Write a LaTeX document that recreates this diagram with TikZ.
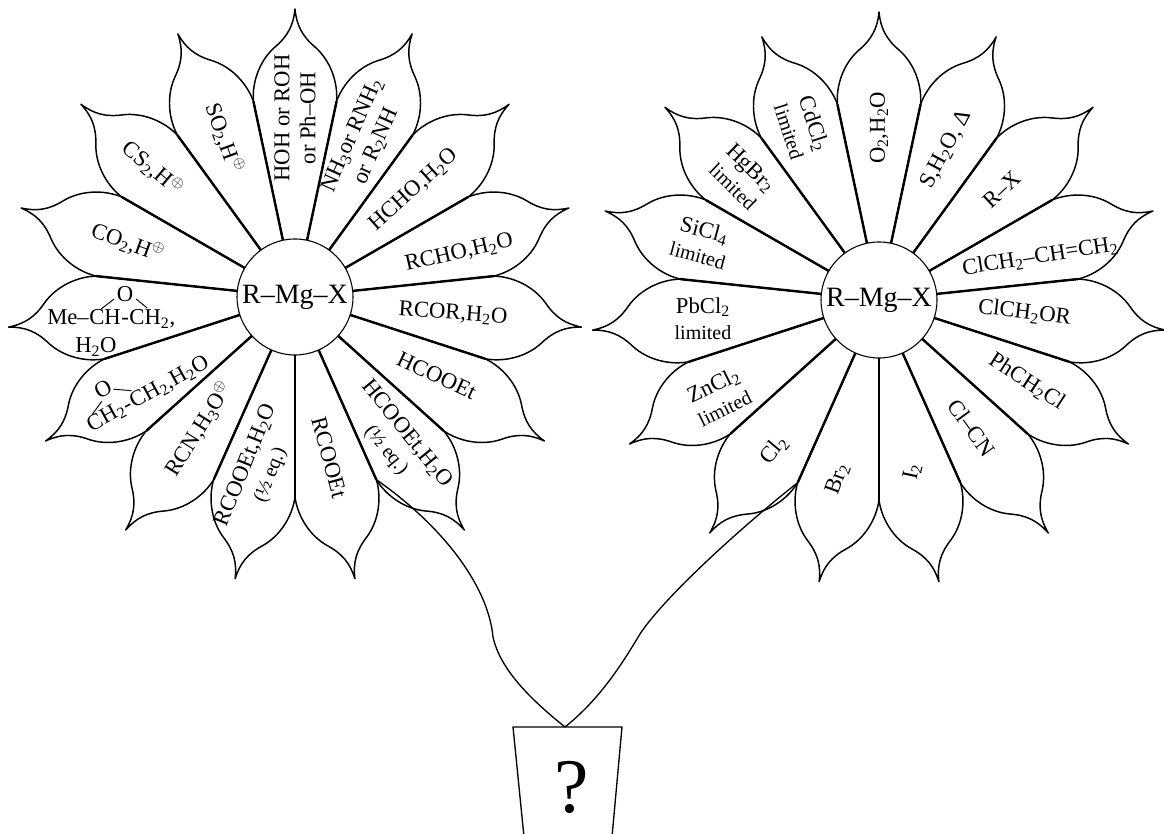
\documentclass[tikz,border=0pt]{standalone}
\usepackage{fontspec}
\setmainfont{Liberation Serif}
\usetikzlibrary{calc}
\newcommand{\dn}[1]{\textsubscript{#1}}
\newcommand{\pl}{$^{\oplus}$}
\newcommand{\limfont}{\fontsize{15}{16}\selectfont}
\begin{document}
\begin{tikzpicture}[x=0.75pt,y=0.75pt,
  petalline/.style={draw=black,fill=white,line width=1.1pt,line join=round},
  ray/.style={line width=1.8pt},
  core/.style={circle,draw,line width=0.8pt,fill=white,minimum size=87pt,inner sep=0pt,
    font=\fontsize{21}{24}\selectfont},
  lab/.style={inner sep=0pt,align=center,font=\fontsize{17}{19.5}\selectfont},
  bond/.style={line width=0.7pt},
  stem/.style={line width=1pt},
  pics/flowerpetal/.style={code={
    \path[petalline] (-12:58) -- (-12:200)
      .. controls (214,-43) and (236,-36) .. (250,-20)
      .. controls (261,-7) and (272,-1.5) .. (288,0)
      .. controls (272,1.5) and (261,7) .. (250,20)
      .. controls (236,36) and (214,43) .. (12:200)
      -- (12:58) -- cycle;}}]
\useasboundingbox (0,0) rectangle (1164,834);

\coordinate (lc) at (295,537);
\coordinate (rc) at (879,534);

% petals of both flowers
\foreach \a in {90,66,...,-246} {
  \pic[rotate=\a] at (lc) {flowerpetal};
  \pic[rotate=\a] at (rc) {flowerpetal};
}
% shared edges between neighbouring petals
\foreach \a in {102,78,...,-234} {
  \draw[ray] ($(lc)+(\a:58)$) -- ($(lc)+(\a:200)$);
  \draw[ray] ($(rc)+(\a:58)$) -- ($(rc)+(\a:200)$);
}

% stems and pot
\coordinate (lstem) at ($(lc)+(-66:200)$);
\coordinate (rstem) at ($(rc)+(-114:200)$);
\coordinate (pottop) at (565,107);
\draw[stem] (lstem) .. controls (440,310) and (488,250) .. (493,197)
  .. controls (500,165) and (530,135) .. (pottop);
\draw[stem] (rstem) .. controls (745,310) and (665,238) .. (640,200)
  .. controls (622,170) and (600,135) .. (pottop);
\coordinate (potbl) at (524,-3);
\coordinate (pottl) at (513,107);
\coordinate (pottr) at (622,107);
\coordinate (potbr) at (612,-3);
\draw[stem] (potbl) -- (pottl) -- (pottr) -- (potbr);
\node[inner sep=0pt,font=\fontsize{58}{60}\selectfont] (q) at (572,47) {?};

% centres
\node[core] (lcore) at (lc) {R–Mg–X};
\node[core] (rcore) at (rc) {R–Mg–X};

% reagents of the left flower
\node[lab,rotate=90] (l1) at ($(lc)+(90:179)$) {HOH or ROH\\or Ph–OH};
\node[lab,rotate=66] (l2) at ($(lc)+(66:171)$) {NH\dn3or RNH\dn2\\or R\dn2NH};
\node[lab,rotate=42] (l3) at ($(lc)+(42:160)$) {HCHO,H\dn2O};
\node[lab,rotate=13] (l4) at ($(lc)+(15:170)$) {RCHO,H\dn2O};
\node[lab,rotate=-4] (l5) at ($(lc)+(-6:159)$) {RCOR,H\dn2O};
\node[lab,rotate=-25] (l6) at ($(lc)+(-29:162)$) {HCOOEt};
\node[lab,rotate=-51] (l7) at ($(lc)+(-55:177)$) {HCOOEt,H\dn2O\\{\limfont (½ eq.)}};
\node[lab,rotate=-75] (l8) at ($(lc)+(-78:164)$) {RCOOEt};
\node[lab,rotate=68] (l9) at ($(lc)+(-102:177)$) {RCOOEt,H\dn2O\\{\limfont (½ eq.)}};
\node[lab,rotate=58] (l10) at ($(lc)+(-126:163)$) {RCN,H\dn3O\pl};
\node[lab,rotate=-20] (l13) at ($(lc)+(162:176)$) {CO\dn2,H\pl};
\node[lab,rotate=-40] (l14) at ($(lc)+(138:192)$) {CS\dn2,H\pl};
\node[lab,rotate=-70] (l15) at ($(lc)+(114:174)$) {SO\dn2,H\pl};

% ethylene oxide
\begin{scope}[shift={($(lc)+(-147:180)$)},rotate=29,transform shape]
  \node[lab,anchor=base west] (e1) at (-64,-7) {CH\dn2};
  \node[lab,anchor=base west] (e2) at (e1.base east) {-};
  \node[lab,anchor=base west] (e3) at (e2.base east) {CH\dn2,H\dn2O};
  \node[lab] (eo) at (-33,25) {O};
  \coordinate (eb1) at (-40,15);
  \coordinate (eb2) at (-55,8);
  \coordinate (eb3) at (-24,20);
  \coordinate (eb4) at (-9,10);
  \draw[bond] (eb1) -- (eb2);
  \draw[bond] (eb3) -- (eb4);
\end{scope}

% propylene oxide
\node[lab,anchor=base west] (p1) at (47,509) {Me–};
\node[lab,anchor=base west] (p2) at (p1.base east) {CH};
\node[lab,anchor=base west] (p3) at (p2.base east) {-};
\node[lab,anchor=base west] (p4) at (p3.base east) {CH\dn2,};
\node[lab,anchor=base west] (p5) at (75,481) {H\dn2O};
\node[lab] (po) at ($(p3.base)+(0,31)$) {O};
\draw[bond] ($(po)+(-11,-5)$) -- ($(po)+(-24,-15)$);
\draw[bond] ($(po)+(11,-5)$) -- ($(po)+(22,-14)$);

% reagents of the right flower
\node[lab,rotate=90] (r1) at ($(rc)+(90:172)$) {O\dn2,H\dn2O};
\node[lab,rotate=62] (r2) at ($(rc)+(66:165)$) {S,H\dn2O, Δ};
\node[lab,rotate=43] (r3) at ($(rc)+(42:165)$) {R–X};
\node[lab,rotate=9] (r4) at ($(rc)+(15:167)$) {ClCH\dn2–CH=CH\dn2};
\node[lab,rotate=-7] (r5) at ($(rc)+(-5:146)$) {ClCH\dn2OR};
\node[lab,rotate=-33] (r6) at ($(rc)+(-29:169)$) {PhCH\dn2Cl};
\node[lab,rotate=-54] (r7) at ($(rc)+(-54:158)$) {Cl–CN};
\node[lab,rotate=78] (r8) at ($(rc)+(-79:175)$) {I\dn2};
\node[lab,rotate=70] (r9) at ($(rc)+(-103:184)$) {Br\dn2};
\node[lab,rotate=50] (r10) at ($(rc)+(-125:183)$) {Cl\dn2};
\node[lab,rotate=26] (r11) at ($(rc)+(-149:187)$) {ZnCl\dn2\\{\limfont limited}};
\node[lab,rotate=0] (r12) at ($(rc)+(-174:177)$) {PbCl\dn2\\{\limfont limited}};
\node[lab,rotate=-15] (r13) at ($(rc)+(162:187)$) {SiCl\dn4\\{\limfont limited}};
\node[lab,rotate=-44] (r14) at ($(rc)+(138:184)$) {HgBr\dn2\\{\limfont limited}};
\node[lab,rotate=-72] (r15) at ($(rc)+(114:189)$) {CdCl\dn2\\{\limfont limited}};
\end{tikzpicture}
\end{document}
